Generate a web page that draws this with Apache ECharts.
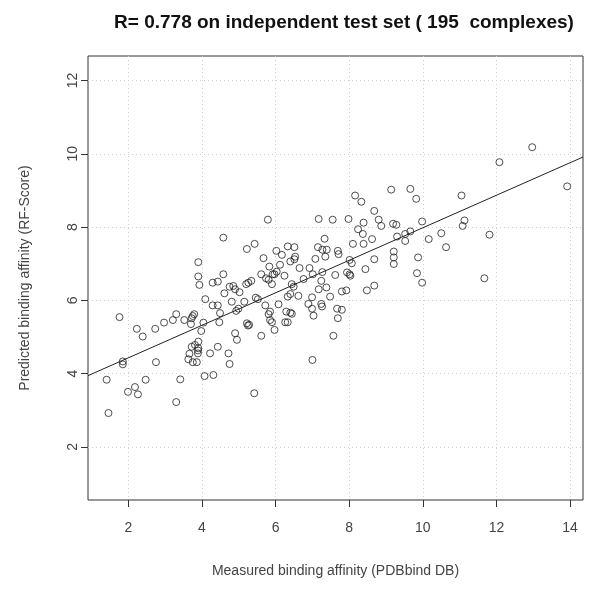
<!DOCTYPE html>
<html>
<head>
<meta charset="utf-8">
<script src="https://cdn.jsdelivr.net/npm/echarts@6/dist/echarts.min.js"></script>
<style>html,body{margin:0;padding:0;background:#fff;}#c{width:601px;height:589px;}</style>
</head>
<body>
<div id="c"></div>
<script>
// Measured affinity (x) and RF-Score predicted affinity (y)
const measured = [
  2.23,2.73,2.39,3.98,1.85,1.85,2.75,1.41,2.47,3.41,4.07,4.31,2.18,1.99,2.26,3.30,1.46,
  3.72,3.81,3.90,3.90,3.89,3.66,3.63,3.75,3.86,4.22,3.89,
  3.90,3.90,3.93,4.29,4.09,4.29,1.76,2.97,3.21,3.30,3.52,3.72,3.79,3.75,3.70,4.04,
  5.79,7.17,7.55,
  7.98,8.16,8.33,8.68,8.80,8.39,9.14,9.66,9.82,9.19,9.28,9.98,8.24,8.37,8.87,9.52,9.66,10.50,
  12.97,12.08,13.92,11.05,11.13,11.08,11.81,
  7.69,7.71,8.10,8.39,8.62,9.30,9.52,10.16,10.63,9.21,9.21,9.21,9.87,8.01,8.07,8.68,8.44,
  7.94,8.03,8.01,7.62,9.84,9.98,8.68,8.48,7.80,7.92,7.67,7.80,7.69,
  11.67,
  4.90,4.95,5.61,4.43,4.72,4.75,5.42,7.00,7.57,5.97,
  4.58,5.22,5.43,6.02,6.33,6.51,6.17,5.67,6.40,6.51,6.53,7.15,7.33,7.27,7.39,7.35,7.08,
  5.83,6.12,6.03,5.97,5.92,6.65,6.92,5.61,6.24,4.58,7.01,7.27,5.34,5.26,5.20,5.74,5.81,
  5.90,6.76,7.24,4.75,4.85,4.90,5.02,4.61,4.43,6.49,6.44,7.17,7.38,4.81,5.15,5.46,5.52,
  6.33,6.40,6.62,6.99,7.48,5.72,6.08,6.89,7.24,7.26,4.43,4.93,4.99,4.49,5.81,5.85,6.29,
  6.40,6.44,6.99,7.03,5.85,5.90,6.26,6.33,4.47,5.22,5.25,5.28
];
const predicted = [
  5.22,5.22,5.01,5.16,4.33,4.25,4.31,3.83,3.83,3.84,3.93,3.96,3.63,3.50,3.43,3.22,2.92,
  4.73,4.78,4.87,4.69,4.55,4.54,4.39,4.31,4.31,4.55,4.63,
  7.04,6.65,6.42,6.48,6.03,5.86,5.54,5.39,5.46,5.62,5.46,5.51,5.62,5.57,5.35,5.39,
  8.20,8.22,8.20,
  8.22,8.86,8.69,8.44,8.20,8.12,9.02,9.04,8.77,8.09,8.06,8.15,7.94,7.81,8.03,7.81,7.88,7.83,
  10.18,9.77,9.11,8.86,8.18,8.03,7.79,
  7.35,7.26,7.54,7.54,7.67,7.74,7.62,7.67,7.45,7.33,7.17,6.99,7.17,7.10,7.01,7.12,6.85,
  6.76,6.67,6.71,6.69,6.74,6.48,6.40,6.27,6.24,6.27,5.77,5.74,5.51,
  6.60,
  5.10,4.92,5.03,4.73,4.55,4.26,3.46,4.37,5.03,5.19,
  7.71,7.40,7.54,7.35,7.47,7.45,7.24,7.15,7.06,7.12,7.19,7.45,7.68,7.38,7.38,7.19,7.13,
  6.92,6.97,6.78,6.71,6.71,6.88,6.88,6.71,6.67,6.71,6.71,6.77,6.53,6.48,6.44,6.60,6.56,
  6.44,6.58,6.53,6.37,6.39,6.30,6.22,6.19,6.51,6.37,6.44,6.30,6.35,5.96,5.96,6.07,6.03,
  6.10,6.17,6.12,6.08,6.10,5.86,5.89,5.90,5.90,5.83,5.86,5.71,5.77,5.65,5.62,5.69,5.69,
  5.66,5.63,5.77,5.58,5.46,5.40,5.40,5.40,5.40,5.37,5.31,5.33
];
const xTicks = [2, 4, 6, 8, 10, 12, 14];
const yTicks = [2, 4, 6, 8, 10, 12];
const fitIntercept = 3.54;
const fitSlope = 0.444;
const xRange = [0.904, 14.35];
const yRange = [0.546, 12.67];

const points = measured.map((v, i) => [v, predicted[i]]);
const fitLine = xRange.map(v => [v, fitIntercept + fitSlope * v]);

const chart = echarts.init(document.getElementById('c'), null, {renderer: 'canvas'});
const font = 'Liberation Sans, Arial, sans-serif';
chart.setOption({
  animation: false,
  backgroundColor: '#ffffff',
  title: {
    text: 'R= 0.778 on independent test set ( 195  complexes)',
    left: 339, top: 8, textAlign: 'center',
    textStyle: {fontFamily: font, fontSize: 19, fontWeight: 'bold', color: '#111'}
  },
  grid: {left: 88, right: 18, top: 56, bottom: 89, show: true, borderColor: '#333', borderWidth: 1, backgroundColor: 'transparent'},
  xAxis: {
    type: 'value', min: xRange[0], max: xRange[1],
    name: 'Measured binding affinity (PDBbind DB)', nameLocation: 'middle', nameGap: 64,
    nameTextStyle: {fontFamily: font, fontSize: 14, color: '#444'},
    axisLine: {show: false},
    axisTick: {show: true, length: 7, customValues: xTicks, lineStyle: {color: '#333'}},
    axisLabel: {customValues: xTicks, margin: 21, fontFamily: font, fontSize: 14, color: '#444'},
    splitLine: {show: true, lineStyle: {color: '#cfcfcf', type: [1, 3], width: 1}}
  },
  yAxis: {
    type: 'value', min: yRange[0], max: yRange[1],
    name: 'Predicted binding affinity (RF-Score)', nameLocation: 'middle', nameGap: 56,
    nameTextStyle: {fontFamily: font, fontSize: 14, color: '#444'},
    axisLine: {show: false},
    axisTick: {show: true, length: 7, customValues: yTicks, lineStyle: {color: '#333'}},
    axisLabel: {customValues: yTicks, rotate: 90, margin: 8, fontFamily: font, fontSize: 14, color: '#444'},
    splitLine: {show: true, lineStyle: {color: '#cfcfcf', type: [1, 3], width: 1}}
  },
  series: [
    {
      type: 'scatter', data: points, symbol: 'circle', symbolSize: 7,
      itemStyle: {color: 'rgba(0,0,0,0)', borderColor: '#222', borderWidth: 1},
      emphasis: {disabled: true}
    },
    {
      type: 'line', data: fitLine, showSymbol: false, symbol: 'none',
      lineStyle: {color: '#222', width: 1}, clip: true, emphasis: {disabled: true}
    }
  ]
});
</script>
</body>
</html>
